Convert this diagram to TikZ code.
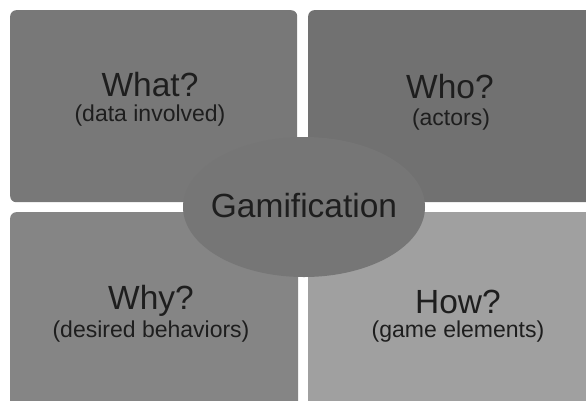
\documentclass[tikz,border=0pt]{standalone}
\usepackage{fontspec}
\setmainfont{Liberation Sans}
\usepackage{xcolor}
\usetikzlibrary{shapes.geometric}

\definecolor{whatgray}{HTML}{787878}
\definecolor{whogray}{HTML}{717171}
\definecolor{whygray}{HTML}{858585}
\definecolor{howgray}{HTML}{A0A0A0}
\definecolor{gamgray}{HTML}{767676}
\definecolor{inkgray}{HTML}{1E1E1E}

\tikzset{
	quad/.style={rectangle, rounded corners=6pt, inner sep=0pt, anchor=north west},
	head/.style={anchor=base, text=inkgray, font=\fontsize{33.5}{38}\selectfont},
	sub/.style={anchor=base, text=inkgray, font=\fontsize{23}{27}\selectfont}
}

\begin{document}
\begin{tikzpicture}[x=1pt, y=-1pt]
					\def\w{586};
					\def\h{400};
					
					\useasboundingbox (0,0) rectangle (\w,\h);
					\fill[white] (0,0) rectangle (\w,\h);
					\clip (0,0) rectangle (\w,\h);
					
					\begin{scope}
						\node[quad, fill=whatgray, minimum width=287pt, minimum height=192pt] (qwhat) at (10,10) {};
						\node[quad, fill=whogray, minimum width=290pt, minimum height=192pt] (qwho) at (308,10) {};
						\node[quad, fill=whygray, minimum width=288pt, minimum height=200pt] (qwhy) at (10,212) {};
						\node[quad, fill=howgray, minimum width=290pt, minimum height=200pt] (qhow) at (308,212) {};
					\end{scope}
					
					\node[ellipse, fill=gamgray, minimum width=242pt, minimum height=140pt, inner sep=0pt] (gam) at (304,207) {};
					
					\begin{scope}
						\node[head] (what) at (150,96) {What?};
						\node[sub] (whatsub) at (150,121) {(data involved)};
						
						\node[head] (who) at (450,98) {Who?};
						\node[sub] (whosub) at (451,125) {(actors)};
						
						\node[head] (why) at (151,309) {Why?};
						\node[sub] (whysub) at (151,337) {(desired behaviors)};
						
						\node[head] (how) at (458,313) {How?};
						\node[sub] (howsub) at (458,337) {(game elements)};
						
						\node[head] (gamtext) at (304,217) {Gamification};
					\end{scope}
				\end{tikzpicture}
\end{document}
